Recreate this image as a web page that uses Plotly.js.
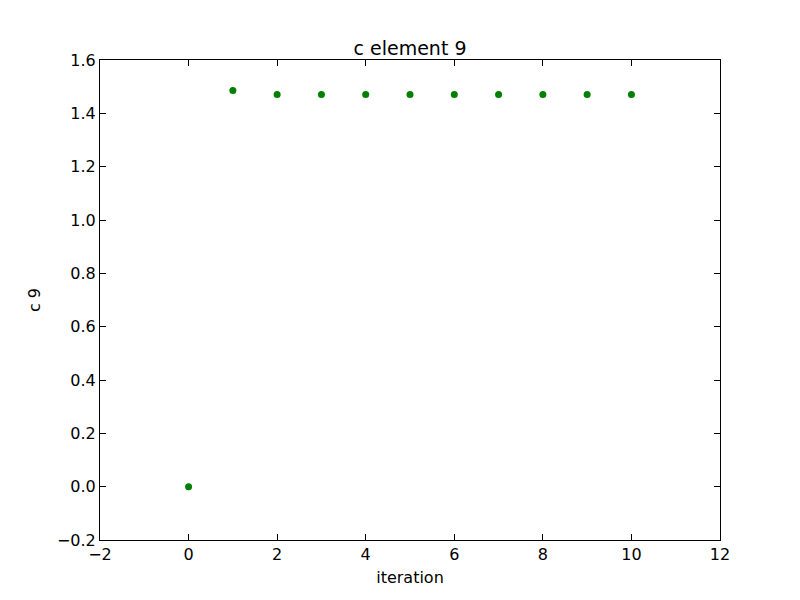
<!DOCTYPE html>
<html>
<head>
<meta charset="utf-8">
<script src="https://cdn.plot.ly/plotly-3.0.1.min.js"></script>
<style>body{margin:0;padding:0;background:#fff;}#chart{width:800px;height:600px;}</style>
</head>
<body>
<div id="chart"></div>
<script>
const iterations = [0, 1, 2, 3, 4, 5, 6, 7, 8, 9, 10];
const c9 = [0.0, 1.486, 1.471, 1.471, 1.471, 1.471, 1.471, 1.471, 1.471, 1.471, 1.471];
const xTicks = [-2, 0, 2, 4, 6, 8, 10, 12];
const yTicks = [-0.2, 0.0, 0.2, 0.4, 0.6, 0.8, 1.0, 1.2, 1.4, 1.6];

const axisCommon = {
  showgrid: false, zeroline: false, showline: true, linecolor: '#000', linewidth: 1,
  mirror: 'ticks', ticks: 'inside', ticklen: 6, tickcolor: '#000', tickwidth: 1,
  tickfont: {family: 'DejaVu Sans', size: 16, color: '#000'}
};

Plotly.newPlot('chart', [{
  x: iterations, y: c9, type: 'scatter', mode: 'markers',
  marker: {color: 'green', size: 7, line: {width: 0}}
}], {
  width: 800, height: 600,
  margin: {l: 100, r: 80, t: 60, b: 60},
  paper_bgcolor: '#fff', plot_bgcolor: '#fff',
  showlegend: false,
  title: {text: 'c element 9', font: {family: 'DejaVu Sans', size: 19, color: '#000'}, x: 0.5, xanchor: 'center', xref: 'paper', yref: 'paper', y: 1, yanchor: 'bottom', pad: {b: 5}},
  xaxis: Object.assign({}, axisCommon, {
    range: [-2, 12], tickvals: xTicks, ticktext: xTicks.map(v => v < 0 ? '\u2212' + Math.abs(v) : String(v)),
    title: {text: 'iteration', font: {family: 'DejaVu Sans', size: 16, color: '#000'}, standoff: 8}
  }),
  yaxis: Object.assign({}, axisCommon, {
    range: [-0.2, 1.6], tickvals: yTicks, ticktext: yTicks.map(v => (v < 0 ? '\u2212' : '') + Math.abs(v).toFixed(1)),
    title: {text: 'c 9', font: {family: 'DejaVu Sans', size: 16, color: '#000'}, standoff: 12}
  })
}, {displayModeBar: false, staticPlot: true});
</script>
</body>
</html>
